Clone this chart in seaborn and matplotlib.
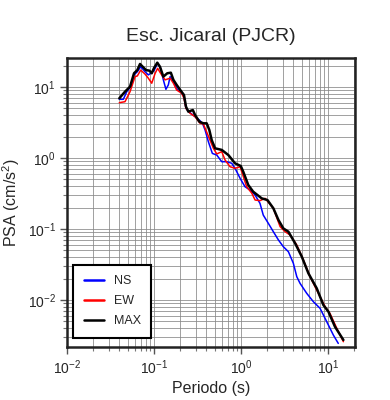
import numpy as np
import pandas as pd
import matplotlib
matplotlib.use("Agg")
import matplotlib.pyplot as plt
import seaborn as sns
from matplotlib.ticker import LogLocator

title = "Esc. Jicaral (PJCR)"
xlabel = "Periodo (s)"
ylabel = "PSA (cm/s$^2$)"
series_names = ["NS", "EW", "MAX"]
series_colors = ["#0000ff", "#ff0000", "#000000"]

ns_period = [0.0399, 0.0444, 0.0486, 0.0540, 0.0589, 0.0643, 0.0703, 0.0788, 0.0860, 0.0917,
             0.100, 0.110, 0.119, 0.128, 0.137, 0.146, 0.153, 0.167, 0.185, 0.203,
             0.221, 0.233, 0.259, 0.296, 0.338, 0.363, 0.386, 0.421, 0.468, 0.526,
             0.600, 0.686, 0.782, 0.853, 0.975, 1.11, 1.27, 1.45, 1.65, 1.80,
             2.06, 2.35, 2.69, 3.06, 3.50, 3.99, 4.37, 4.76, 5.69, 6.78,
             8.09, 9.66, 11.5, 13.1]
ns_psa = [6.71, 6.71, 8.59, 10.1, 14.8, 16.4, 19.3, 16.4, 14.8, 15.6,
          17.0, 21.6, 18.3, 12.6, 9.28, 10.7, 14.0, 11.9, 9.28, 8.59,
          7.30, 5.01, 4.35, 3.82, 3.35, 3.01, 2.48, 1.70, 1.16, 1.10,
          0.887, 0.887, 0.842, 0.716, 0.518, 0.394, 0.354, 0.301, 0.230, 0.157,
          0.120, 0.0917, 0.0700, 0.0564, 0.0479, 0.0329, 0.0213, 0.0172, 0.0124, 0.00946,
          0.00764, 0.00494, 0.00321, 0.00245]

ew_period = [0.0399, 0.0464, 0.0530, 0.0605, 0.0643, 0.0703, 0.0788, 0.0860, 0.0941, 0.103,
             0.110, 0.119, 0.134, 0.153, 0.167, 0.182, 0.208, 0.221, 0.233, 0.259,
             0.296, 0.338, 0.369, 0.481, 0.526, 0.600, 0.655, 0.748, 0.853, 0.975,
             1.16, 1.33, 1.45, 1.65, 1.89, 2.35, 2.81, 3.21, 3.66, 4.37,
             5.20, 6.21, 7.41, 9.24, 10.5, 12.6, 15.0]
ew_psa = [6.01, 6.21, 8.59, 14.0, 14.3, 17.3, 15.2, 13.3, 11.3, 15.6,
          18.3, 15.6, 12.6, 13.3, 11.3, 9.07, 8.15, 6.93, 5.01, 4.27,
          3.82, 3.08, 3.01, 1.37, 1.14, 1.23, 0.937, 0.753, 0.716, 0.753,
          0.394, 0.319, 0.256, 0.251, 0.270, 0.196, 0.108, 0.0917, 0.0823, 0.0596,
          0.0366, 0.0213, 0.0138, 0.00805, 0.00650, 0.00399, 0.00259]

max_period = [0.0399, 0.0464, 0.0530, 0.0589, 0.0643, 0.0690, 0.0741, 0.0809, 0.0883, 0.0941,
              0.100, 0.109, 0.117, 0.128, 0.142, 0.156, 0.167, 0.182, 0.203, 0.221,
              0.233, 0.248, 0.279, 0.296, 0.332, 0.369, 0.403, 0.432, 0.460, 0.503,
              0.600, 0.715, 0.853, 0.993, 1.06, 1.21, 1.38, 1.73, 2.01, 2.35,
              2.69, 3.06, 3.50, 4.18, 4.99, 5.94, 7.41, 8.83, 10.1, 12.0, 15.0]
max_psa = [6.93, 8.59, 10.1, 15.6, 17.3, 21.1, 19.3, 17.3, 17.0, 15.6,
           18.5, 22.0, 19.3, 14.0, 15.6, 15.9, 12.6, 10.7, 8.87, 7.71,
           5.28, 4.49, 4.74, 4.04, 3.24, 3.08, 3.08, 2.48, 1.79, 1.37,
           1.30, 1.10, 0.842, 0.771, 0.641, 0.417, 0.335, 0.270, 0.256, 0.196,
           0.134, 0.102, 0.0917, 0.0630, 0.0408, 0.0238, 0.0146, 0.00851, 0.00684, 0.00421, 0.00274]

frames = []
for name, per, psa in [("NS", ns_period, ns_psa), ("EW", ew_period, ew_psa), ("MAX", max_period, max_psa)]:
    frames.append(pd.DataFrame({"Periodo": per, "PSA": psa, "comp": name}))
df = pd.concat(frames, ignore_index=True)

sns.set_theme(style="white")
plt.rcParams["font.family"] = ["Liberation Sans", "DejaVu Sans"]
plt.rcParams["mathtext.fontset"] = "custom"
plt.rcParams["mathtext.rm"] = "Liberation Sans"
plt.rcParams["mathtext.it"] = "Liberation Sans:italic"
plt.rcParams["mathtext.default"] = "regular"

fig = plt.figure(figsize=(3.9, 4.0), dpi=100)
ax = fig.add_axes([0.1718, 0.1325, 0.7385, 0.7225])

ax.set_xscale("log")
ax.set_yscale("log")

widths = {"NS": 1.1, "EW": 1.1, "MAX": 1.8}
for name, col in zip(series_names, series_colors):
    sub = df[df["comp"] == name]
    sns.lineplot(data=sub, x="Periodo", y="PSA", color=col, linewidth=widths[name],
                 sort=False, estimator=None, ax=ax, label=name, zorder=3)

ax.set_xlim(0.01, 20.4)
ax.set_ylim(0.00218, 25.6)

ax.xaxis.set_major_locator(LogLocator(base=10, numticks=10))
ax.xaxis.set_minor_locator(LogLocator(base=10, subs=np.arange(2, 10), numticks=20))
ax.yaxis.set_major_locator(LogLocator(base=10, numticks=10))
ax.yaxis.set_minor_locator(LogLocator(base=10, subs=np.arange(2, 10), numticks=20))

ax.grid(True, which="both", color="#888888", linewidth=0.7, alpha=0.8, zorder=0)
ax.set_axisbelow(True)

for sp in ax.spines.values():
    sp.set_linewidth(1.8)
    sp.set_color("#222222")

ax.tick_params(axis="both", which="major", direction="out", length=5, width=1.0,
               color="#555555", labelsize=10, pad=3, bottom=True, left=True)
ax.tick_params(axis="both", which="minor", direction="out", length=3, width=0.8,
               color="#777777", bottom=True, left=True)

ax.set_xlabel(xlabel, fontsize=11.5, labelpad=3)
ax.set_ylabel(ylabel, fontsize=11.5, labelpad=4)
ax.set_title(title, fontsize=14, pad=12)

leg = ax.legend(loc="lower left", bbox_to_anchor=(0.021, 0.031), borderaxespad=0,
                fancybox=False, frameon=True, fontsize=9, handlelength=1.6,
                labelspacing=0.65, borderpad=0.85, handletextpad=0.8)
leg.get_frame().set_edgecolor("black")
leg.get_frame().set_linewidth(1.5)
leg.get_frame().set_facecolor("white")
leg.get_frame().set_alpha(1)
leg.set_zorder(5)
for h in leg.get_lines():
    h.set_linewidth(1.8)

fig.savefig("out.png", dpi=100)
